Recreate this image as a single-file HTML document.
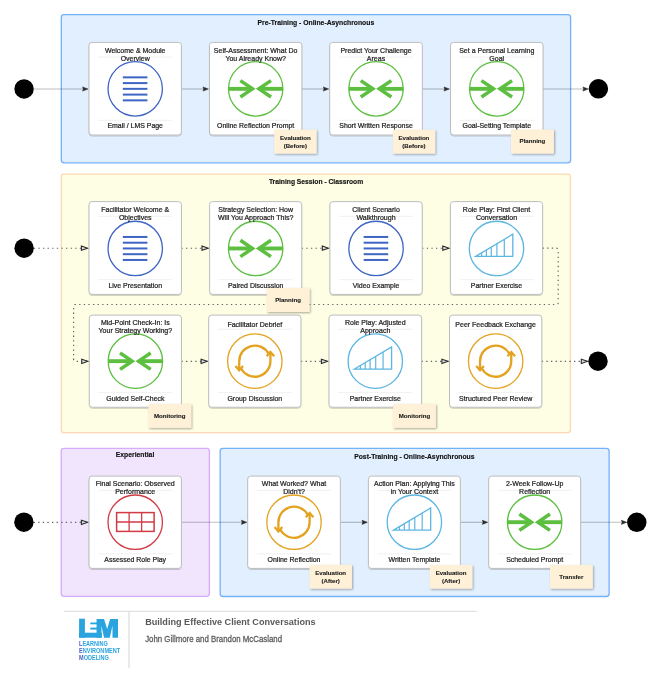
<!DOCTYPE html><html><head><meta charset="utf-8"><style>
html,body{margin:0;padding:0;background:#fff;}
.ct{fill:#1e1e1e;stroke:#1e1e1e;stroke-width:0.22px;}
svg{display:block;font-family:"Liberation Sans", sans-serif;will-change:transform;}
</style></head><body>
<svg width="661" height="684" viewBox="0 0 661 684">
<defs><filter id="sh" x="-20%" y="-20%" width="150%" height="150%"><feGaussianBlur in="SourceAlpha" stdDeviation="0.8"/><feOffset dx="0.8" dy="0.8"/><feComponentTransfer><feFuncA type="linear" slope="0.35"/></feComponentTransfer><feMerge><feMergeNode/><feMergeNode in="SourceGraphic"/></feMerge></filter>
<filter id="csh" x="-10%" y="-10%" width="120%" height="120%"><feGaussianBlur in="SourceAlpha" stdDeviation="0.6"/><feOffset dx="0.3" dy="0.5"/><feComponentTransfer><feFuncA type="linear" slope="0.18"/></feComponentTransfer><feMerge><feMergeNode/><feMergeNode in="SourceGraphic"/></feMerge></filter></defs>
<rect x="61.3" y="14.6" width="509.30" height="148.20" rx="2.8" fill="#e1effe" stroke="#74b2f8" stroke-width="1.3"/>
<text x="315.90" y="25.00" text-anchor="middle" textLength="116.6" lengthAdjust="spacingAndGlyphs" font-size="6.9" font-weight="bold" fill="#111" stroke="#111" stroke-width="0.15">Pre-Training - Online-Asynchronous</text>
<rect x="61.3" y="174.1" width="509.10" height="258.60" rx="2.8" fill="#fefee4" stroke="#fdd8b2" stroke-width="1.3"/>
<text x="316.05" y="183.80" text-anchor="middle" textLength="94.3" lengthAdjust="spacingAndGlyphs" font-size="6.9" font-weight="bold" fill="#111" stroke="#111" stroke-width="0.15">Training Session - Classroom</text>
<rect x="61.2" y="448.3" width="148.20" height="148.10" rx="2.8" fill="#f1e5fe" stroke="#d6acfa" stroke-width="1.3"/>
<text x="135.05" y="456.50" text-anchor="middle" textLength="38.5" lengthAdjust="spacingAndGlyphs" font-size="6.9" font-weight="bold" fill="#111" stroke="#111" stroke-width="0.15">Experiential</text>
<rect x="220.2" y="448.3" width="388.90" height="148.20" rx="2.8" fill="#e1effe" stroke="#74b2f8" stroke-width="1.3"/>
<text x="414.35" y="458.50" text-anchor="middle" textLength="120.3" lengthAdjust="spacingAndGlyphs" font-size="6.9" font-weight="bold" fill="#111" stroke="#111" stroke-width="0.15">Post-Training - Online-Asynchronous</text>
<line x1="33.8" y1="89.0" x2="83.50" y2="89.0" stroke="#000" stroke-opacity="0.26" stroke-width="1.1"/>
<polygon points="88.00,89.0 82.60,86.90 83.30,89.0 82.60,91.10" fill="#2b2b2b" stroke="#2b2b2b" stroke-width="0.5" stroke-linejoin="round"/>
<line x1="181.45" y1="89.0" x2="203.90" y2="89.0" stroke="#000" stroke-opacity="0.26" stroke-width="1.1"/>
<polygon points="208.40,89.0 203.00,86.90 203.70,89.0 203.00,91.10" fill="#2b2b2b" stroke="#2b2b2b" stroke-width="0.5" stroke-linejoin="round"/>
<line x1="301.9" y1="89.0" x2="324.20" y2="89.0" stroke="#000" stroke-opacity="0.26" stroke-width="1.1"/>
<polygon points="328.70,89.0 323.30,86.90 324.00,89.0 323.30,91.10" fill="#2b2b2b" stroke="#2b2b2b" stroke-width="0.5" stroke-linejoin="round"/>
<line x1="422.35" y1="89.0" x2="444.90" y2="89.0" stroke="#000" stroke-opacity="0.26" stroke-width="1.1"/>
<polygon points="449.40,89.0 444.00,86.90 444.70,89.0 444.00,91.10" fill="#2b2b2b" stroke="#2b2b2b" stroke-width="0.5" stroke-linejoin="round"/>
<line x1="543.0" y1="89.0" x2="583.80" y2="89.0" stroke="#000" stroke-opacity="0.26" stroke-width="1.1"/>
<polygon points="588.30,89.0 582.90,86.90 583.60,89.0 582.90,91.10" fill="#2b2b2b" stroke="#2b2b2b" stroke-width="0.5" stroke-linejoin="round"/>
<path d="M33.8,248.2 H81.50" fill="none" stroke="#5f5f5f" stroke-width="1.15" stroke-dasharray="1.3 3.3"/>
<polygon points="81.40,246.10 87.60,248.2 81.40,250.30" fill="#dfe4ea" stroke="#2a2a2a" stroke-width="1.1" stroke-linejoin="miter"/>
<path d="M181.45,248.2 H202.10" fill="none" stroke="#5f5f5f" stroke-width="1.15" stroke-dasharray="1.3 3.3"/>
<polygon points="202.00,246.10 208.20,248.2 202.00,250.30" fill="#dfe4ea" stroke="#2a2a2a" stroke-width="1.1" stroke-linejoin="miter"/>
<path d="M301.75,248.2 H322.40" fill="none" stroke="#5f5f5f" stroke-width="1.15" stroke-dasharray="1.3 3.3"/>
<polygon points="322.30,246.10 328.50,248.2 322.30,250.30" fill="#dfe4ea" stroke="#2a2a2a" stroke-width="1.1" stroke-linejoin="miter"/>
<path d="M422.2,248.2 H442.90" fill="none" stroke="#5f5f5f" stroke-width="1.15" stroke-dasharray="1.3 3.3"/>
<polygon points="442.80,246.10 449.00,248.2 442.80,250.30" fill="#dfe4ea" stroke="#2a2a2a" stroke-width="1.1" stroke-linejoin="miter"/>
<path d="M542.6,248.1 H556.2 Q558.2,248.1 558.2,250.1 V302.5 Q558.2,304.5 556.2,304.5 H75.6 Q73.6,304.5 73.6,306.5 V359.3 Q73.6,361.3 75.6,361.3 H81.8" fill="none" stroke="#5f5f5f" stroke-width="1.15" stroke-dasharray="1.3 3.3"/>
<polygon points="81.70,359.20 87.90,361.3 81.70,363.40" fill="#dfe4ea" stroke="#2a2a2a" stroke-width="1.1" stroke-linejoin="miter"/>
<path d="M181.45,361.3 H201.20" fill="none" stroke="#5f5f5f" stroke-width="1.15" stroke-dasharray="1.3 3.3"/>
<polygon points="201.10,359.20 207.30,361.3 201.10,363.40" fill="#dfe4ea" stroke="#2a2a2a" stroke-width="1.1" stroke-linejoin="miter"/>
<path d="M300.96,361.3 H321.50" fill="none" stroke="#5f5f5f" stroke-width="1.15" stroke-dasharray="1.3 3.3"/>
<polygon points="321.40,359.20 327.60,361.3 321.40,363.40" fill="#dfe4ea" stroke="#2a2a2a" stroke-width="1.1" stroke-linejoin="miter"/>
<path d="M421.6,361.3 H442.00" fill="none" stroke="#5f5f5f" stroke-width="1.15" stroke-dasharray="1.3 3.3"/>
<polygon points="441.90,359.20 448.10,361.3 441.90,363.40" fill="#dfe4ea" stroke="#2a2a2a" stroke-width="1.1" stroke-linejoin="miter"/>
<path d="M541.8,361.3 H581.40" fill="none" stroke="#5f5f5f" stroke-width="1.15" stroke-dasharray="1.3 3.3"/>
<polygon points="581.30,359.20 587.50,361.3 581.30,363.40" fill="#dfe4ea" stroke="#2a2a2a" stroke-width="1.1" stroke-linejoin="miter"/>
<path d="M33.6,522.3 H81.50" fill="none" stroke="#5f5f5f" stroke-width="1.15" stroke-dasharray="1.3 3.3"/>
<polygon points="81.40,520.20 87.60,522.3 81.40,524.40" fill="#dfe4ea" stroke="#2a2a2a" stroke-width="1.1" stroke-linejoin="miter"/>
<line x1="181.45" y1="522.3" x2="242.30" y2="522.3" stroke="#000" stroke-opacity="0.26" stroke-width="1.1"/>
<polygon points="246.80,522.3 241.40,520.20 242.10,522.3 241.40,524.40" fill="#2b2b2b" stroke="#2b2b2b" stroke-width="0.5" stroke-linejoin="round"/>
<line x1="340.35" y1="522.3" x2="362.90" y2="522.3" stroke="#000" stroke-opacity="0.26" stroke-width="1.1"/>
<polygon points="367.40,522.3 362.00,520.20 362.70,522.3 362.00,524.40" fill="#2b2b2b" stroke="#2b2b2b" stroke-width="0.5" stroke-linejoin="round"/>
<line x1="460.35" y1="522.3" x2="483.20" y2="522.3" stroke="#000" stroke-opacity="0.26" stroke-width="1.1"/>
<polygon points="487.70,522.3 482.30,520.20 483.00,522.3 482.30,524.40" fill="#2b2b2b" stroke="#2b2b2b" stroke-width="0.5" stroke-linejoin="round"/>
<line x1="580.65" y1="522.3" x2="622.30" y2="522.3" stroke="#000" stroke-opacity="0.26" stroke-width="1.1"/>
<polygon points="626.80,522.3 621.40,520.20 622.10,522.3 621.40,524.40" fill="#2b2b2b" stroke="#2b2b2b" stroke-width="0.5" stroke-linejoin="round"/>
<circle cx="24.05" cy="88.95" r="9.7" fill="#000"/>
<circle cx="598.4" cy="88.8" r="9.7" fill="#000"/>
<circle cx="24.1" cy="248.2" r="9.7" fill="#000"/>
<circle cx="598.0" cy="361.2" r="9.7" fill="#000"/>
<circle cx="23.9" cy="522.2" r="9.7" fill="#000"/>
<circle cx="636.8" cy="522.3" r="9.7" fill="#000"/>
<rect x="89.0" y="42.4" width="92.45" height="92.6" rx="3" fill="#fff" stroke="#bdbdbd" stroke-width="1" filter="url(#csh)"/>
<line x1="98.30" y1="57.10" x2="172.25" y2="57.10" stroke="#ececec" stroke-width="0.8"/>
<line x1="98.30" y1="120.30" x2="172.25" y2="120.30" stroke="#ececec" stroke-width="0.8"/>
<circle cx="135.22" cy="88.85" r="27.2" fill="none" stroke="#3e64c4" stroke-width="1.3"/>
<line x1="122.82" y1="77.35" x2="147.42" y2="77.35" stroke="#3e64c4" stroke-width="2.0"/>
<line x1="122.82" y1="83.10" x2="147.42" y2="83.10" stroke="#3e64c4" stroke-width="2.0"/>
<line x1="122.82" y1="88.85" x2="147.42" y2="88.85" stroke="#3e64c4" stroke-width="2.0"/>
<line x1="122.82" y1="94.60" x2="147.42" y2="94.60" stroke="#3e64c4" stroke-width="2.0"/>
<line x1="122.82" y1="100.35" x2="147.42" y2="100.35" stroke="#3e64c4" stroke-width="2.0"/>
<text x="135.22" y="52.90" text-anchor="middle" font-size="7.0" class="ct">Welcome &amp; Module</text>
<text x="135.22" y="60.80" text-anchor="middle" font-size="7.0" class="ct">Overview</text>
<text x="135.22" y="128.40" text-anchor="middle" font-size="6.95" class="ct">Email / LMS Page</text>
<rect x="209.46" y="42.4" width="92.44" height="92.6" rx="3" fill="#fff" stroke="#bdbdbd" stroke-width="1" filter="url(#csh)"/>
<line x1="218.76" y1="57.10" x2="292.70" y2="57.10" stroke="#ececec" stroke-width="0.8"/>
<line x1="218.76" y1="120.30" x2="292.70" y2="120.30" stroke="#ececec" stroke-width="0.8"/>
<circle cx="255.68" cy="88.85" r="27.2" fill="none" stroke="#5cbf40" stroke-width="1.3"/>
<line x1="228.48" y1="88.85" x2="252.28" y2="88.85" stroke="#5cbf40" stroke-width="3.9"/>
<line x1="259.08" y1="88.85" x2="282.88" y2="88.85" stroke="#5cbf40" stroke-width="3.9"/>
<polyline points="240.38,80.65 252.48,88.85 240.38,97.05" fill="none" stroke="#5cbf40" stroke-width="3.5" stroke-miterlimit="10"/>
<polyline points="270.98,80.65 258.88,88.85 270.98,97.05" fill="none" stroke="#5cbf40" stroke-width="3.5" stroke-miterlimit="10"/>
<text x="255.68" y="52.90" text-anchor="middle" font-size="7.0" class="ct">Self-Assessment: What Do</text>
<text x="255.68" y="60.80" text-anchor="middle" font-size="7.0" class="ct">You Already Know?</text>
<text x="255.68" y="128.40" text-anchor="middle" font-size="6.95" class="ct">Online Reflection Prompt</text>
<rect x="329.7" y="42.4" width="92.65" height="92.6" rx="3" fill="#fff" stroke="#bdbdbd" stroke-width="1" filter="url(#csh)"/>
<line x1="339.00" y1="57.10" x2="413.15" y2="57.10" stroke="#ececec" stroke-width="0.8"/>
<line x1="339.00" y1="120.30" x2="413.15" y2="120.30" stroke="#ececec" stroke-width="0.8"/>
<circle cx="376.02" cy="88.85" r="27.2" fill="none" stroke="#5cbf40" stroke-width="1.3"/>
<line x1="348.82" y1="88.85" x2="372.62" y2="88.85" stroke="#5cbf40" stroke-width="3.9"/>
<line x1="379.42" y1="88.85" x2="403.22" y2="88.85" stroke="#5cbf40" stroke-width="3.9"/>
<polyline points="360.72,80.65 372.82,88.85 360.72,97.05" fill="none" stroke="#5cbf40" stroke-width="3.5" stroke-miterlimit="10"/>
<polyline points="391.32,80.65 379.22,88.85 391.32,97.05" fill="none" stroke="#5cbf40" stroke-width="3.5" stroke-miterlimit="10"/>
<text x="376.02" y="52.90" text-anchor="middle" font-size="7.0" class="ct">Predict Your Challenge</text>
<text x="376.02" y="60.80" text-anchor="middle" font-size="7.0" class="ct">Areas</text>
<text x="376.02" y="128.40" text-anchor="middle" font-size="6.95" class="ct">Short Written Response</text>
<rect x="450.5" y="42.4" width="92.50" height="92.6" rx="3" fill="#fff" stroke="#bdbdbd" stroke-width="1" filter="url(#csh)"/>
<line x1="459.80" y1="57.10" x2="533.80" y2="57.10" stroke="#ececec" stroke-width="0.8"/>
<line x1="459.80" y1="120.30" x2="533.80" y2="120.30" stroke="#ececec" stroke-width="0.8"/>
<circle cx="496.75" cy="88.85" r="27.2" fill="none" stroke="#5cbf40" stroke-width="1.3"/>
<line x1="469.55" y1="88.85" x2="493.35" y2="88.85" stroke="#5cbf40" stroke-width="3.9"/>
<line x1="500.15" y1="88.85" x2="523.95" y2="88.85" stroke="#5cbf40" stroke-width="3.9"/>
<polyline points="481.45,80.65 493.55,88.85 481.45,97.05" fill="none" stroke="#5cbf40" stroke-width="3.5" stroke-miterlimit="10"/>
<polyline points="512.05,80.65 499.95,88.85 512.05,97.05" fill="none" stroke="#5cbf40" stroke-width="3.5" stroke-miterlimit="10"/>
<text x="496.75" y="52.90" text-anchor="middle" font-size="7.0" class="ct">Set a Personal Learning</text>
<text x="496.75" y="60.80" text-anchor="middle" font-size="7.0" class="ct">Goal</text>
<text x="496.75" y="128.40" text-anchor="middle" font-size="6.95" class="ct">Goal-Setting Template</text>
<rect x="89.0" y="201.6" width="92.45" height="92.8" rx="3" fill="#fff" stroke="#bdbdbd" stroke-width="1" filter="url(#csh)"/>
<line x1="98.30" y1="216.30" x2="172.25" y2="216.30" stroke="#ececec" stroke-width="0.8"/>
<line x1="98.30" y1="279.70" x2="172.25" y2="279.70" stroke="#ececec" stroke-width="0.8"/>
<circle cx="135.22" cy="248.45" r="27.2" fill="none" stroke="#3e64c4" stroke-width="1.3"/>
<line x1="122.82" y1="236.95" x2="147.42" y2="236.95" stroke="#3e64c4" stroke-width="2.0"/>
<line x1="122.82" y1="242.70" x2="147.42" y2="242.70" stroke="#3e64c4" stroke-width="2.0"/>
<line x1="122.82" y1="248.45" x2="147.42" y2="248.45" stroke="#3e64c4" stroke-width="2.0"/>
<line x1="122.82" y1="254.20" x2="147.42" y2="254.20" stroke="#3e64c4" stroke-width="2.0"/>
<line x1="122.82" y1="259.95" x2="147.42" y2="259.95" stroke="#3e64c4" stroke-width="2.0"/>
<text x="135.22" y="212.10" text-anchor="middle" font-size="7.0" class="ct">Facilitator Welcome &amp;</text>
<text x="135.22" y="220.00" text-anchor="middle" font-size="7.0" class="ct">Objectives</text>
<text x="135.22" y="287.80" text-anchor="middle" font-size="6.95" class="ct">Live Presentation</text>
<rect x="209.6" y="201.6" width="92.15" height="92.8" rx="3" fill="#fff" stroke="#bdbdbd" stroke-width="1" filter="url(#csh)"/>
<line x1="218.90" y1="216.30" x2="292.55" y2="216.30" stroke="#ececec" stroke-width="0.8"/>
<line x1="218.90" y1="279.70" x2="292.55" y2="279.70" stroke="#ececec" stroke-width="0.8"/>
<circle cx="255.68" cy="248.45" r="27.2" fill="none" stroke="#5cbf40" stroke-width="1.3"/>
<line x1="228.48" y1="248.45" x2="252.28" y2="248.45" stroke="#5cbf40" stroke-width="3.9"/>
<line x1="259.08" y1="248.45" x2="282.88" y2="248.45" stroke="#5cbf40" stroke-width="3.9"/>
<polyline points="240.38,240.25 252.48,248.45 240.38,256.65" fill="none" stroke="#5cbf40" stroke-width="3.5" stroke-miterlimit="10"/>
<polyline points="270.98,240.25 258.88,248.45 270.98,256.65" fill="none" stroke="#5cbf40" stroke-width="3.5" stroke-miterlimit="10"/>
<text x="255.68" y="212.10" text-anchor="middle" font-size="7.0" class="ct">Strategy Selection: How</text>
<text x="255.68" y="220.00" text-anchor="middle" font-size="7.0" class="ct">Will You Approach This?</text>
<text x="255.68" y="287.80" text-anchor="middle" font-size="6.95" class="ct">Paired Discussion</text>
<rect x="329.9" y="201.6" width="92.30" height="92.8" rx="3" fill="#fff" stroke="#bdbdbd" stroke-width="1" filter="url(#csh)"/>
<line x1="339.20" y1="216.30" x2="413.00" y2="216.30" stroke="#ececec" stroke-width="0.8"/>
<line x1="339.20" y1="279.70" x2="413.00" y2="279.70" stroke="#ececec" stroke-width="0.8"/>
<circle cx="376.05" cy="248.45" r="27.2" fill="none" stroke="#3e64c4" stroke-width="1.3"/>
<line x1="363.65000000000003" y1="236.95" x2="388.25" y2="236.95" stroke="#3e64c4" stroke-width="2.0"/>
<line x1="363.65000000000003" y1="242.70" x2="388.25" y2="242.70" stroke="#3e64c4" stroke-width="2.0"/>
<line x1="363.65000000000003" y1="248.45" x2="388.25" y2="248.45" stroke="#3e64c4" stroke-width="2.0"/>
<line x1="363.65000000000003" y1="254.20" x2="388.25" y2="254.20" stroke="#3e64c4" stroke-width="2.0"/>
<line x1="363.65000000000003" y1="259.95" x2="388.25" y2="259.95" stroke="#3e64c4" stroke-width="2.0"/>
<text x="376.05" y="212.10" text-anchor="middle" font-size="7.0" class="ct">Client Scenario</text>
<text x="376.05" y="220.00" text-anchor="middle" font-size="7.0" class="ct">Walkthrough</text>
<text x="376.05" y="287.80" text-anchor="middle" font-size="6.95" class="ct">Video Example</text>
<rect x="450.4" y="201.6" width="92.20" height="92.8" rx="3" fill="#fff" stroke="#bdbdbd" stroke-width="1" filter="url(#csh)"/>
<line x1="459.70" y1="216.30" x2="533.40" y2="216.30" stroke="#ececec" stroke-width="0.8"/>
<line x1="459.70" y1="279.70" x2="533.40" y2="279.70" stroke="#ececec" stroke-width="0.8"/>
<circle cx="496.5" cy="248.45" r="27.2" fill="none" stroke="#5cb6e2" stroke-width="1.3"/>
<polygon points="475.70,256.35 512.80,234.25 512.80,256.35" fill="none" stroke="#5cb6e2" stroke-width="1.3" stroke-linejoin="miter" stroke-miterlimit="10"/>
<line x1="481.60" y1="252.84" x2="481.60" y2="256.35" stroke="#5cb6e2" stroke-width="1.2"/>
<line x1="486.40" y1="249.98" x2="486.40" y2="256.35" stroke="#5cb6e2" stroke-width="1.2"/>
<line x1="491.30" y1="247.06" x2="491.30" y2="256.35" stroke="#5cb6e2" stroke-width="1.2"/>
<line x1="496.90" y1="243.72" x2="496.90" y2="256.35" stroke="#5cb6e2" stroke-width="1.2"/>
<line x1="504.30" y1="239.31" x2="504.30" y2="256.35" stroke="#5cb6e2" stroke-width="1.2"/>
<text x="496.50" y="212.10" text-anchor="middle" font-size="7.0" class="ct">Role Play: First Client</text>
<text x="496.50" y="220.00" text-anchor="middle" font-size="7.0" class="ct">Conversation</text>
<text x="496.50" y="287.80" text-anchor="middle" font-size="6.95" class="ct">Partner Exercise</text>
<rect x="89.3" y="315.1" width="92.15" height="92.16" rx="3" fill="#fff" stroke="#bdbdbd" stroke-width="1" filter="url(#csh)"/>
<line x1="98.60" y1="329.20" x2="172.25" y2="329.20" stroke="#ececec" stroke-width="0.8"/>
<line x1="98.60" y1="392.60" x2="172.25" y2="392.60" stroke="#ececec" stroke-width="0.8"/>
<circle cx="135.38" cy="361.15" r="27.2" fill="none" stroke="#5cbf40" stroke-width="1.3"/>
<line x1="108.18" y1="361.15" x2="131.98" y2="361.15" stroke="#5cbf40" stroke-width="3.9"/>
<line x1="138.78" y1="361.15" x2="162.58" y2="361.15" stroke="#5cbf40" stroke-width="3.9"/>
<polyline points="120.08,352.95 132.18,361.15 120.08,369.35" fill="none" stroke="#5cbf40" stroke-width="3.5" stroke-miterlimit="10"/>
<polyline points="150.68,352.95 138.58,361.15 150.68,369.35" fill="none" stroke="#5cbf40" stroke-width="3.5" stroke-miterlimit="10"/>
<text x="135.38" y="325.00" text-anchor="middle" font-size="7.0" class="ct">Mid-Point Check-In: Is</text>
<text x="135.38" y="332.90" text-anchor="middle" font-size="7.0" class="ct">Your Strategy Working?</text>
<text x="135.38" y="400.70" text-anchor="middle" font-size="6.95" class="ct">Guided Self-Check</text>
<rect x="208.7" y="315.1" width="92.26" height="92.16" rx="3" fill="#fff" stroke="#bdbdbd" stroke-width="1" filter="url(#csh)"/>
<line x1="218.00" y1="329.20" x2="291.76" y2="329.20" stroke="#ececec" stroke-width="0.8"/>
<line x1="218.00" y1="392.60" x2="291.76" y2="392.60" stroke="#ececec" stroke-width="0.8"/>
<circle cx="254.83" cy="361.15" r="27.2" fill="none" stroke="#e3a21f" stroke-width="1.3"/>
<path d="M239.23,369.75 L239.23,361.15 A15.6,15.6 0 0 1 268.60,353.83" fill="none" stroke="#e3a21f" stroke-width="2.3"/>
<path d="M270.43,352.55 L270.43,361.15 A15.6,15.6 0 0 1 241.06,368.47" fill="none" stroke="#e3a21f" stroke-width="2.3"/>
<polyline points="266.63,356.25 270.43,351.95 274.23,356.25" fill="none" stroke="#e3a21f" stroke-width="2.3"/>
<polyline points="235.43,366.05 239.23,370.35 243.03,366.05" fill="none" stroke="#e3a21f" stroke-width="2.3"/>
<text x="254.83" y="326.80" text-anchor="middle" font-size="7.0" class="ct">Facilitator Debrief</text>
<text x="254.83" y="400.70" text-anchor="middle" font-size="6.95" class="ct">Group Discussion</text>
<rect x="329.0" y="315.1" width="92.60" height="92.16" rx="3" fill="#fff" stroke="#bdbdbd" stroke-width="1" filter="url(#csh)"/>
<line x1="338.30" y1="329.20" x2="412.40" y2="329.20" stroke="#ececec" stroke-width="0.8"/>
<line x1="338.30" y1="392.60" x2="412.40" y2="392.60" stroke="#ececec" stroke-width="0.8"/>
<circle cx="375.3" cy="361.15" r="27.2" fill="none" stroke="#5cb6e2" stroke-width="1.3"/>
<polygon points="354.50,369.05 391.60,346.95 391.60,369.05" fill="none" stroke="#5cb6e2" stroke-width="1.3" stroke-linejoin="miter" stroke-miterlimit="10"/>
<line x1="360.40" y1="365.54" x2="360.40" y2="369.05" stroke="#5cb6e2" stroke-width="1.2"/>
<line x1="365.20" y1="362.68" x2="365.20" y2="369.05" stroke="#5cb6e2" stroke-width="1.2"/>
<line x1="370.10" y1="359.76" x2="370.10" y2="369.05" stroke="#5cb6e2" stroke-width="1.2"/>
<line x1="375.70" y1="356.42" x2="375.70" y2="369.05" stroke="#5cb6e2" stroke-width="1.2"/>
<line x1="383.10" y1="352.01" x2="383.10" y2="369.05" stroke="#5cb6e2" stroke-width="1.2"/>
<text x="375.30" y="325.00" text-anchor="middle" font-size="7.0" class="ct">Role Play: Adjusted</text>
<text x="375.30" y="332.90" text-anchor="middle" font-size="7.0" class="ct">Approach</text>
<text x="375.30" y="400.70" text-anchor="middle" font-size="6.95" class="ct">Partner Exercise</text>
<rect x="449.5" y="315.1" width="92.30" height="92.16" rx="3" fill="#fff" stroke="#bdbdbd" stroke-width="1" filter="url(#csh)"/>
<line x1="458.80" y1="329.20" x2="532.60" y2="329.20" stroke="#ececec" stroke-width="0.8"/>
<line x1="458.80" y1="392.60" x2="532.60" y2="392.60" stroke="#ececec" stroke-width="0.8"/>
<circle cx="495.65" cy="361.15" r="27.2" fill="none" stroke="#e3a21f" stroke-width="1.3"/>
<path d="M480.05,369.75 L480.05,361.15 A15.6,15.6 0 0 1 509.42,353.83" fill="none" stroke="#e3a21f" stroke-width="2.3"/>
<path d="M511.25,352.55 L511.25,361.15 A15.6,15.6 0 0 1 481.88,368.47" fill="none" stroke="#e3a21f" stroke-width="2.3"/>
<polyline points="507.45,356.25 511.25,351.95 515.05,356.25" fill="none" stroke="#e3a21f" stroke-width="2.3"/>
<polyline points="476.25,366.05 480.05,370.35 483.85,366.05" fill="none" stroke="#e3a21f" stroke-width="2.3"/>
<text x="495.65" y="326.80" text-anchor="middle" font-size="7.0" class="ct">Peer Feedback Exchange</text>
<text x="495.65" y="400.70" text-anchor="middle" font-size="6.95" class="ct">Structured Peer Review</text>
<rect x="89.0" y="476.1" width="92.45" height="92.3" rx="3" fill="#fff" stroke="#bdbdbd" stroke-width="1" filter="url(#csh)"/>
<line x1="98.30" y1="490.35" x2="172.25" y2="490.35" stroke="#ececec" stroke-width="0.8"/>
<line x1="98.30" y1="553.80" x2="172.25" y2="553.80" stroke="#ececec" stroke-width="0.8"/>
<circle cx="135.22" cy="522.2" r="27.2" fill="none" stroke="#d23a44" stroke-width="1.3"/>
<rect x="116.62" y="512.60" width="37.5" height="18.8" fill="none" stroke="#d23a44" stroke-width="1.5"/>
<line x1="129.12" y1="512.6" x2="129.12" y2="531.4" stroke="#d23a44" stroke-width="1.3"/>
<line x1="141.62" y1="512.6" x2="141.62" y2="531.4" stroke="#d23a44" stroke-width="1.3"/>
<line x1="116.62" y1="522.0" x2="154.12" y2="522.0" stroke="#d23a44" stroke-width="1.3"/>
<text x="135.22" y="486.15" text-anchor="middle" font-size="7.0" class="ct">Final Scenario: Observed</text>
<text x="135.22" y="494.05" text-anchor="middle" font-size="7.0" class="ct">Performance</text>
<text x="135.22" y="561.90" text-anchor="middle" font-size="6.95" class="ct">Assessed Role Play</text>
<rect x="247.7" y="476.1" width="92.65" height="92.3" rx="3" fill="#fff" stroke="#bdbdbd" stroke-width="1" filter="url(#csh)"/>
<line x1="257.00" y1="490.35" x2="331.15" y2="490.35" stroke="#ececec" stroke-width="0.8"/>
<line x1="257.00" y1="553.80" x2="331.15" y2="553.80" stroke="#ececec" stroke-width="0.8"/>
<circle cx="294.02" cy="522.2" r="27.2" fill="none" stroke="#e3a21f" stroke-width="1.3"/>
<path d="M278.42,530.80 L278.42,522.20 A15.6,15.6 0 0 1 307.79,514.88" fill="none" stroke="#e3a21f" stroke-width="2.3"/>
<path d="M309.62,513.60 L309.62,522.20 A15.6,15.6 0 0 1 280.25,529.52" fill="none" stroke="#e3a21f" stroke-width="2.3"/>
<polyline points="305.82,517.30 309.62,513.00 313.42,517.30" fill="none" stroke="#e3a21f" stroke-width="2.3"/>
<polyline points="274.62,527.10 278.42,531.40 282.22,527.10" fill="none" stroke="#e3a21f" stroke-width="2.3"/>
<text x="294.02" y="486.15" text-anchor="middle" font-size="7.0" class="ct">What Worked? What</text>
<text x="294.02" y="494.05" text-anchor="middle" font-size="7.0" class="ct">Didn't?</text>
<text x="294.02" y="561.90" text-anchor="middle" font-size="6.95" class="ct">Online Reflection</text>
<rect x="368.4" y="476.1" width="91.95" height="92.3" rx="3" fill="#fff" stroke="#bdbdbd" stroke-width="1" filter="url(#csh)"/>
<line x1="377.70" y1="490.35" x2="451.15" y2="490.35" stroke="#ececec" stroke-width="0.8"/>
<line x1="377.70" y1="553.80" x2="451.15" y2="553.80" stroke="#ececec" stroke-width="0.8"/>
<circle cx="414.38" cy="522.2" r="27.2" fill="none" stroke="#5cb6e2" stroke-width="1.3"/>
<polygon points="393.58,530.10 430.68,508.00 430.68,530.10" fill="none" stroke="#5cb6e2" stroke-width="1.3" stroke-linejoin="miter" stroke-miterlimit="10"/>
<line x1="399.48" y1="526.59" x2="399.48" y2="530.10" stroke="#5cb6e2" stroke-width="1.2"/>
<line x1="404.28" y1="523.73" x2="404.28" y2="530.10" stroke="#5cb6e2" stroke-width="1.2"/>
<line x1="409.18" y1="520.81" x2="409.18" y2="530.10" stroke="#5cb6e2" stroke-width="1.2"/>
<line x1="414.78" y1="517.47" x2="414.78" y2="530.10" stroke="#5cb6e2" stroke-width="1.2"/>
<line x1="422.18" y1="513.06" x2="422.18" y2="530.10" stroke="#5cb6e2" stroke-width="1.2"/>
<text x="414.38" y="486.15" text-anchor="middle" font-size="7.0" class="ct">Action Plan: Applying This</text>
<text x="414.38" y="494.05" text-anchor="middle" font-size="7.0" class="ct">in Your Context</text>
<text x="414.38" y="561.90" text-anchor="middle" font-size="6.95" class="ct">Written Template</text>
<rect x="488.7" y="476.1" width="91.95" height="92.3" rx="3" fill="#fff" stroke="#bdbdbd" stroke-width="1" filter="url(#csh)"/>
<line x1="498.00" y1="490.35" x2="571.45" y2="490.35" stroke="#ececec" stroke-width="0.8"/>
<line x1="498.00" y1="553.80" x2="571.45" y2="553.80" stroke="#ececec" stroke-width="0.8"/>
<circle cx="534.67" cy="522.2" r="27.2" fill="none" stroke="#5cbf40" stroke-width="1.3"/>
<line x1="507.47" y1="522.2" x2="531.27" y2="522.2" stroke="#5cbf40" stroke-width="3.9"/>
<line x1="538.07" y1="522.2" x2="561.87" y2="522.2" stroke="#5cbf40" stroke-width="3.9"/>
<polyline points="519.37,514.00 531.47,522.2 519.37,530.40" fill="none" stroke="#5cbf40" stroke-width="3.5" stroke-miterlimit="10"/>
<polyline points="549.97,514.00 537.87,522.2 549.97,530.40" fill="none" stroke="#5cbf40" stroke-width="3.5" stroke-miterlimit="10"/>
<text x="534.67" y="486.15" text-anchor="middle" font-size="7.0" class="ct">2-Week Follow-Up</text>
<text x="534.67" y="494.05" text-anchor="middle" font-size="7.0" class="ct">Reflection</text>
<text x="534.67" y="561.90" text-anchor="middle" font-size="6.95" class="ct">Scheduled Prompt</text>
<rect x="274.2" y="129.7" width="42.30" height="23.90" fill="#fff1d8" filter="url(#sh)"/>
<text x="295.35" y="139.90" text-anchor="middle" font-size="6.1" font-weight="bold" fill="#1a1a1a" stroke="#1a1a1a" stroke-width="0.12">Evaluation</text>
<text x="295.35" y="147.90" text-anchor="middle" font-size="6.1" font-weight="bold" fill="#1a1a1a" stroke="#1a1a1a" stroke-width="0.12">(Before)</text>
<rect x="392.8" y="129.7" width="42.30" height="23.90" fill="#fff1d8" filter="url(#sh)"/>
<text x="413.95" y="139.90" text-anchor="middle" font-size="6.1" font-weight="bold" fill="#1a1a1a" stroke="#1a1a1a" stroke-width="0.12">Evaluation</text>
<text x="413.95" y="147.90" text-anchor="middle" font-size="6.1" font-weight="bold" fill="#1a1a1a" stroke="#1a1a1a" stroke-width="0.12">(Before)</text>
<rect x="511.0" y="129.6" width="42.90" height="24.00" fill="#fff1d8" filter="url(#sh)"/>
<text x="532.45" y="143.30" text-anchor="middle" font-size="6.1" font-weight="bold" fill="#1a1a1a" stroke="#1a1a1a" stroke-width="0.12">Planning</text>
<rect x="266.7" y="288.0" width="42.80" height="24.00" fill="#fff1d8" filter="url(#sh)"/>
<text x="288.10" y="301.70" text-anchor="middle" font-size="6.1" font-weight="bold" fill="#1a1a1a" stroke="#1a1a1a" stroke-width="0.12">Planning</text>
<rect x="148.4" y="404.0" width="42.70" height="23.90" fill="#fff1d8" filter="url(#sh)"/>
<text x="169.75" y="417.70" text-anchor="middle" font-size="6.1" font-weight="bold" fill="#1a1a1a" stroke="#1a1a1a" stroke-width="0.12">Monitoring</text>
<rect x="393.2" y="404.0" width="42.60" height="23.90" fill="#fff1d8" filter="url(#sh)"/>
<text x="414.50" y="417.70" text-anchor="middle" font-size="6.1" font-weight="bold" fill="#1a1a1a" stroke="#1a1a1a" stroke-width="0.12">Monitoring</text>
<rect x="309.5" y="564.8" width="42.40" height="23.80" fill="#fff1d8" filter="url(#sh)"/>
<text x="330.70" y="575.00" text-anchor="middle" font-size="6.1" font-weight="bold" fill="#1a1a1a" stroke="#1a1a1a" stroke-width="0.12">Evaluation</text>
<text x="330.70" y="583.00" text-anchor="middle" font-size="6.1" font-weight="bold" fill="#1a1a1a" stroke="#1a1a1a" stroke-width="0.12">(After)</text>
<rect x="429.8" y="564.9" width="42.50" height="23.70" fill="#fff1d8" filter="url(#sh)"/>
<text x="451.05" y="575.10" text-anchor="middle" font-size="6.1" font-weight="bold" fill="#1a1a1a" stroke="#1a1a1a" stroke-width="0.12">Evaluation</text>
<text x="451.05" y="583.10" text-anchor="middle" font-size="6.1" font-weight="bold" fill="#1a1a1a" stroke="#1a1a1a" stroke-width="0.12">(After)</text>
<rect x="550.0" y="564.9" width="42.70" height="23.70" fill="#fff1d8" filter="url(#sh)"/>
<text x="571.35" y="578.60" text-anchor="middle" font-size="6.1" font-weight="bold" fill="#1a1a1a" stroke="#1a1a1a" stroke-width="0.12">Transfer</text>
<line x1="63.8" y1="611.3" x2="476.8" y2="611.3" stroke="#d9d9d9" stroke-width="1.1"/>
<line x1="129" y1="611.3" x2="129" y2="668.3" stroke="#e2e2e2" stroke-width="1.5"/>
<g fill="#29a4de"><rect x="79.1" y="618.7" width="5.8" height="19.0"/><rect x="79.1" y="632.7" width="22.8" height="5.0"/><rect x="90.3" y="622.5" width="7" height="1.8"/><rect x="90.3" y="627.6" width="7" height="2.0"/><polygon points="96.56,618.95 104.03,618.95 107.18,628.98 110.13,618.95 118.0,618.95 118.0,637.64 112.49,637.64 112.49,625.83 109.74,637.64 104.03,637.64 101.47,625.83 101.47,637.64 96.56,637.64"/></g>
<text x="79" y="645.7" font-size="6.3" font-weight="bold" fill="#29a4de" textLength="28.8" lengthAdjust="spacingAndGlyphs"><tspan fill="#4a5cc0">L</tspan>EARNING</text>
<text x="79" y="652.9" font-size="6.3" font-weight="bold" fill="#29a4de" textLength="41.2" lengthAdjust="spacingAndGlyphs"><tspan fill="#4a5cc0">E</tspan>NVIRONMENT</text>
<text x="79" y="660.3" font-size="6.3" font-weight="bold" fill="#29a4de" textLength="29.9" lengthAdjust="spacingAndGlyphs"><tspan fill="#4a5cc0">M</tspan>ODELING</text>
<text x="145.2" y="625.2" font-size="8.6" font-weight="bold" fill="#58595b" textLength="170.4" lengthAdjust="spacingAndGlyphs">Building Effective Client Conversations</text>
<text x="145.2" y="641.8" font-size="8.5" fill="#58595b" stroke="#58595b" stroke-width="0.26" textLength="136.8" lengthAdjust="spacingAndGlyphs">John Gillmore and Brandon McCasland</text>
</svg></body></html>
